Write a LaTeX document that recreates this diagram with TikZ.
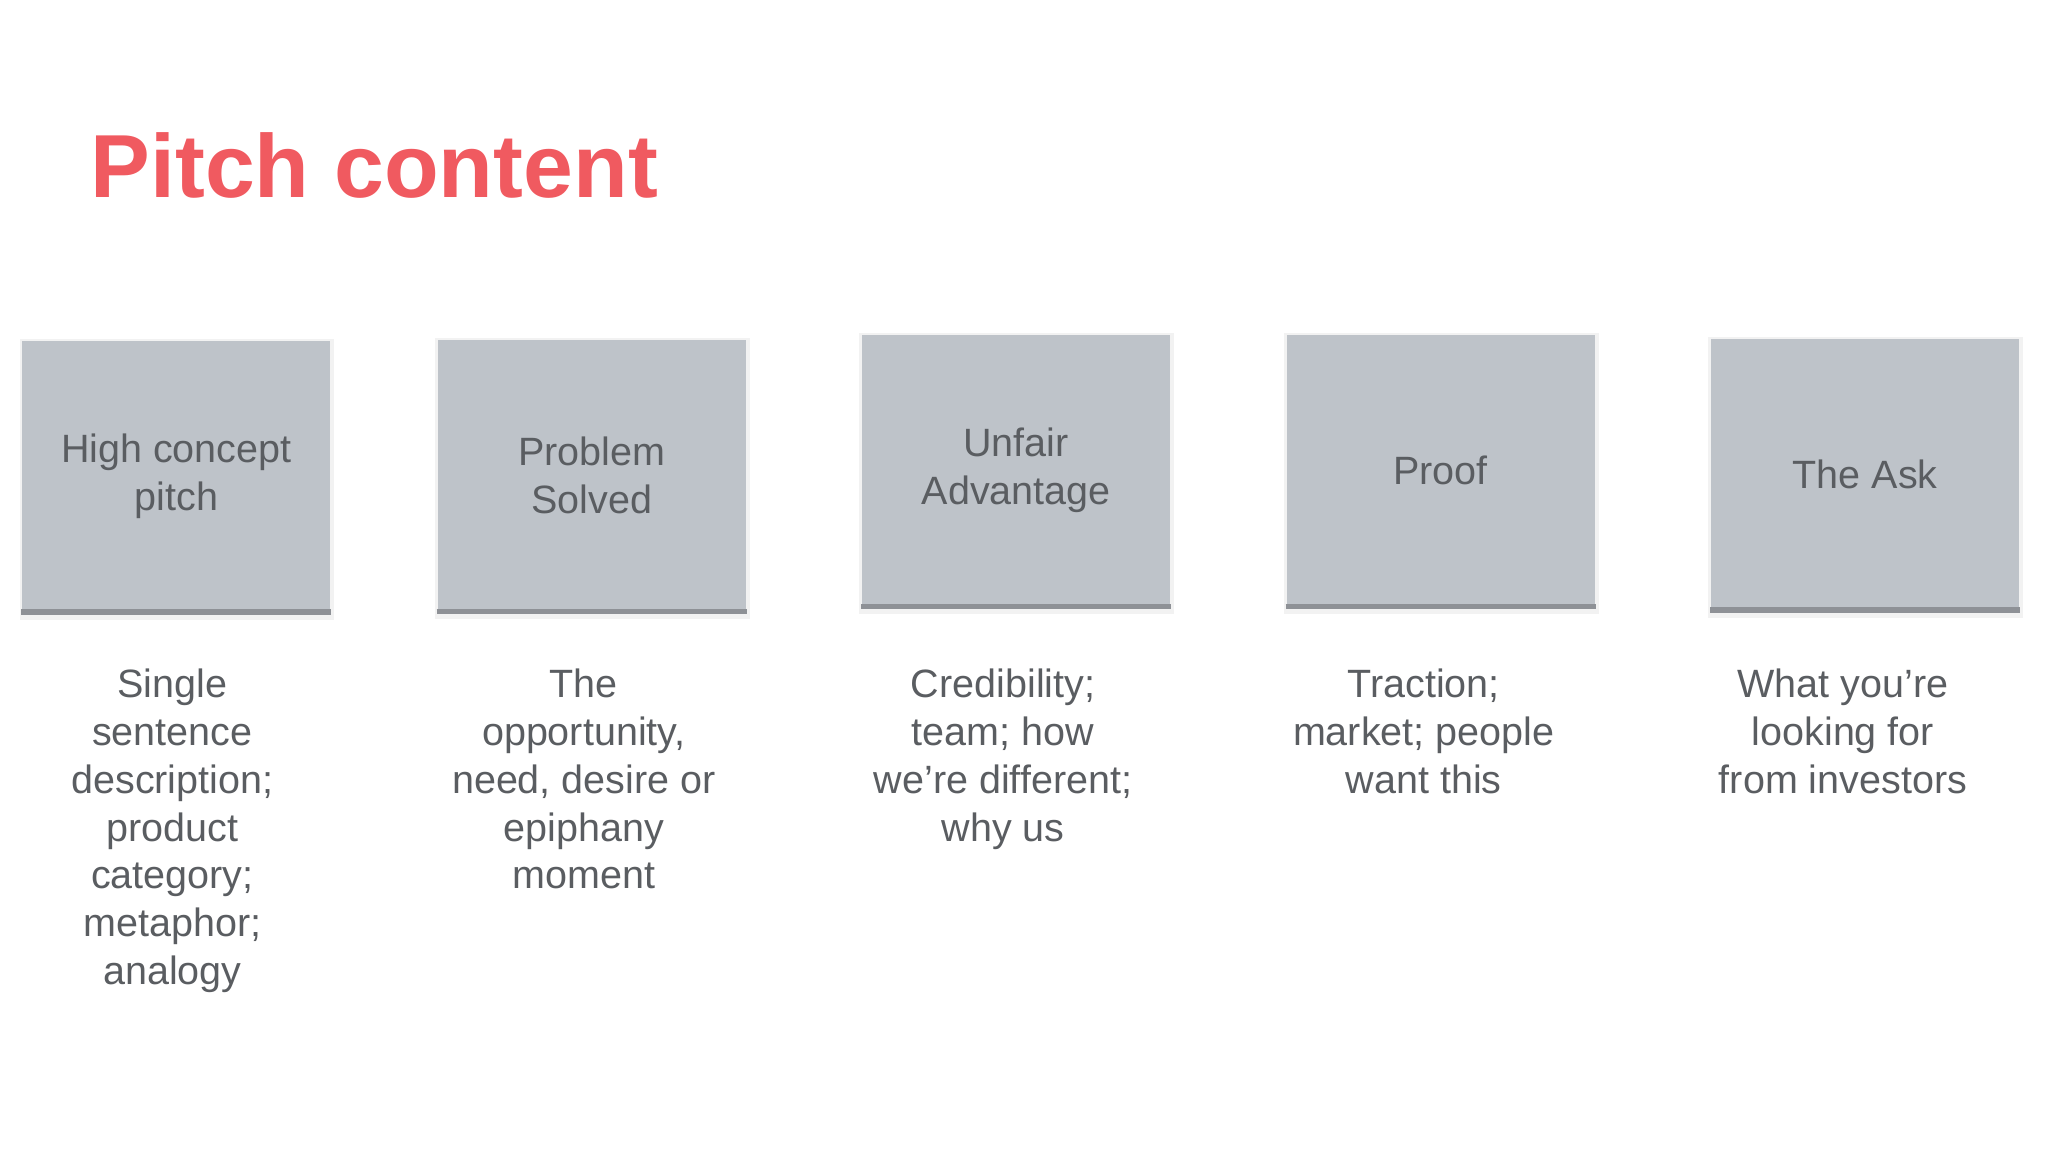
\documentclass[tikz,border=0pt]{standalone}
\usepackage{fontspec}
\setmainfont{Liberation Sans}
\definecolor{boxc}{HTML}{BEC3C9}
\definecolor{edgec}{HTML}{8E9196}
\definecolor{txtc}{HTML}{5A5D61}
\definecolor{titc}{HTML}{F05A60}
\begin{document}
\begin{tikzpicture}[x=0.01cm,y=-0.01cm,
  card/.style={fill=boxc,minimum width=236*0.01cm,minimum height=207*0.01cm,inner sep=0pt,align=center,text=txtc,font=\fontsize{8.6}{10.4}\selectfont},
  desc/.style={align=center,text=txtc,font=\fontsize{8.6}{10.4}\selectfont,anchor=north}]
\useasboundingbox (0,0) rectangle (1568,882);
\node[anchor=west,text=titc,font=\fontsize{19.5}{22}\selectfont\bfseries] (title) at (57,127) {Pitch content};
\foreach \n/\x/\y/\t in {a/135/364.5/{High concept\\pitch},b/453/364/{Problem\\Solved},c/778/360/{Unfair\\Advantage},d/1103/360/{Proof},e/1428/363/{The Ask}}{
  \fill[black!5] (\x-120,\y-105) rectangle (\x+121,\y+110);
  \node[card] (\n) at (\x,\y) {\t};
  \draw[edgec,line width=1.2pt] (\n.south west) -- (\n.south east);
}
\node[desc] (da) at (132,500) {Single\\sentence\\description;\\product\\category;\\metaphor;\\analogy};
\node[desc] (db) at (447,500) {The\\opportunity,\\need, desire or\\epiphany\\moment};
\node[desc] (dc) at (768,500) {Credibility;\\team; how\\we’re different;\\why us};
\node[desc] (dd) at (1090,500) {Traction;\\market; people\\want this};
\node[desc] (de) at (1411,500) {What you’re\\looking for\\from investors};
\end{tikzpicture}
\end{document}
